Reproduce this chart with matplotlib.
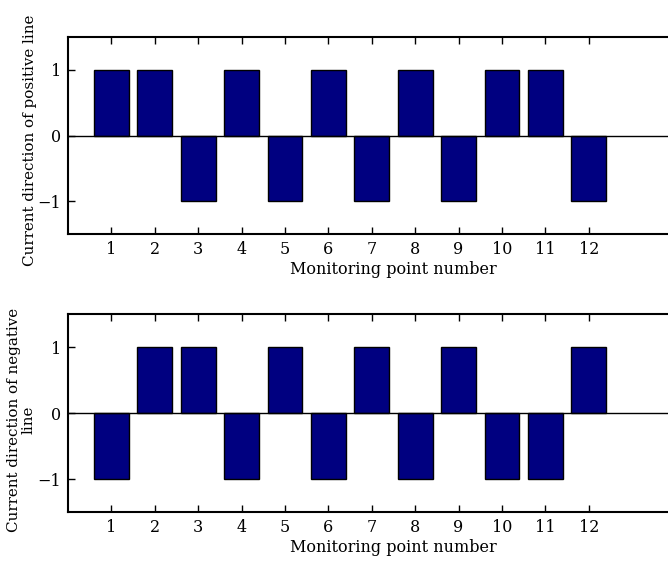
import matplotlib
matplotlib.use("Agg")
import matplotlib.pyplot as plt

points = list(range(1, 13))
positive_line = [1, 1, -1, 1, -1, 1, -1, 1, -1, 1, 1, -1]
negative_line = [-1, 1, 1, -1, 1, -1, 1, -1, 1, -1, -1, 1]
xlabel = "Monitoring point number"
ylabels = ["Current direction of positive line", "Current direction of negative\nline"]

plt.rcParams['font.family'] = ['DejaVu Serif']
plt.rcParams['font.size'] = 11.5
plt.rcParams['axes.unicode_minus'] = True

fig = plt.figure(figsize=(6.68, 5.64), dpi=100)
W, H = 668, 564
left = 68 / W
ax_w_px = 15 * 43.4
width = ax_w_px / W
axes = [fig.add_axes([left, 1 - 234 / H, width, 197 / H]),
        fig.add_axes([left, 1 - 512 / H, width, 198 / H])]
label_right = [37, 36]
label_y = [0.477, 0.465]

for i, (ax, vals, yl) in enumerate(zip(axes, [positive_line, negative_line], ylabels)):
    ax.bar(points, vals, width=0.8, color='#000080', edgecolor='black', linewidth=1, zorder=2)
    ax.axhline(0, color='black', linewidth=1, zorder=3)
    ax.set_xlim(0, 15)
    ax.set_ylim(-1.5, 1.5)
    ax.set_xticks(points)
    ax.set_yticks([-1, 0, 1])
    ax.tick_params(direction='in', top=True, right=True, length=5, width=1, labelsize=11.5, pad=5)
    for s in ax.spines.values():
        s.set_linewidth(1.5)
    ax.set_xlabel(xlabel, labelpad=2)
    ax.set_ylabel(yl, fontsize=10.9, linespacing=1.1)
    ax.yaxis.set_label_coords((label_right[i] - 68) / ax_w_px, label_y[i])

fig.savefig("out.png", dpi=100)
